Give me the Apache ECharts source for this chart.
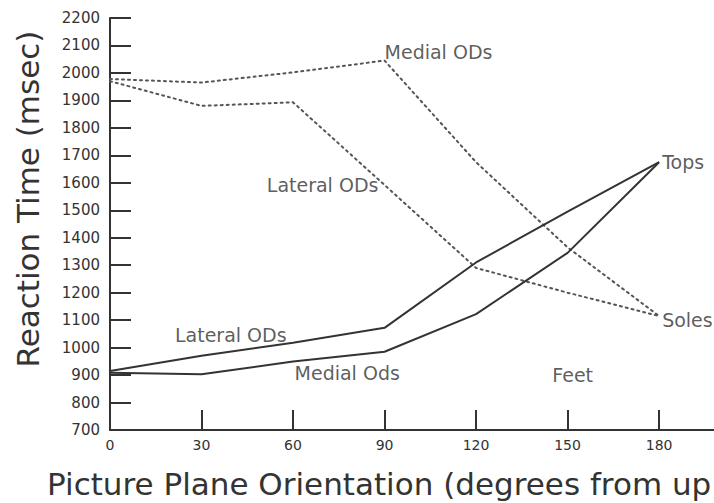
<!DOCTYPE html>
<html><head><meta charset="utf-8">
<script src="https://cdn.jsdelivr.net/npm/echarts@6/dist/echarts.min.js"></script>
<style>html,body{margin:0;padding:0;background:#fff}#c{width:714px;height:503px}</style>
</head><body><div id="c"></div>
<script>
// Data
const orientations = [0, 30, 60, 90, 120, 150, 180];
const xTickValues = [0, 30, 60, 90, 120, 150, 180];
const feetTopsLateral = [915, 970, 1018, 1072, 1310, 1495, 1675];
const feetTopsMedial = [908, 903, 949, 985, 1122, 1345, 1675];
const feetSolesMedial = [1978, 1965, 2002, 2045, 1675, 1365, 1115];
const feetSolesLateral = [1970, 1880, 1893, 1592, 1290, 1200, 1115];
const annotationX = [90, 51.4, 21.3, 60.5, 145, 181, 181];
const annotationY = [2076, 1592, 1046, 907, 900, 1676, 1100];
const annotationText = ['Medial ODs', 'Lateral ODs', 'Lateral ODs', 'Medial Ods', 'Feet', 'Tops', 'Soles'];
const yTitle = 'Reaction Time (msec)';
const xTitle = 'Picture Plane Orientation (degrees from up';

const FONT = '"DejaVu Sans", sans-serif';
const INK = '#333';
const pair = arr => orientations.map((x, i) => [x, arr[i]]);
const solid = { color: INK, width: 2, type: 'solid' };
const dotted = { color: '#555', width: 2, type: [2, 4], cap: 'round' };

const chart = echarts.init(document.getElementById('c'), null, { renderer: 'svg' });
chart.setOption({
  animation: false,
  backgroundColor: '#fff',
  grid: { left: 110, top: 18, bottom: 73, right: 0, containLabel: false },
  xAxis: {
    type: 'value', min: 0, max: 198, interval: 30,
    splitLine: { show: false },
    axisLine: { show: true, lineStyle: { color: INK, width: 2 } },
    axisTick: { show: true, inside: true, length: 20, lineStyle: { color: INK, width: 2 }, customValues: xTickValues },
    axisLabel: { color: INK, fontFamily: FONT, fontSize: 14, margin: 8, customValues: xTickValues,
                 formatter: v => String(v) }
  },
  yAxis: {
    type: 'value', min: 700, max: 2200, interval: 100,
    splitLine: { show: false },
    axisLine: { show: true, lineStyle: { color: INK, width: 2 } },
    axisTick: { show: true, inside: true, length: 21, lineStyle: { color: INK, width: 2 } },
    axisLabel: { color: INK, fontFamily: FONT, fontSize: 15, margin: 10, formatter: v => String(v) }
  },
  series: [
    { type: 'line', data: pair(feetTopsLateral), symbol: 'none', lineStyle: solid, z: 3 },
    { type: 'line', data: pair(feetTopsMedial), symbol: 'none', lineStyle: solid, z: 3 },
    { type: 'line', data: pair(feetSolesMedial), symbol: 'none', lineStyle: dotted, z: 2 },
    { type: 'line', data: pair(feetSolesLateral), symbol: 'none', lineStyle: dotted, z: 2 },
    {
      type: 'scatter', symbolSize: 0, z: 5,
      data: annotationX.map((x, i) => [x, annotationY[i], annotationText[i]]),
      label: {
        show: true, position: 'inside', align: 'left', verticalAlign: 'middle',
        color: INK, fontFamily: FONT, fontSize: 19,
        formatter: p => p.value[2]
      }
    }
  ],
  graphic: [
    { type: 'text', x: 28, y: 199, rotation: Math.PI / 2,
      style: { text: yTitle, font: '31px ' + FONT, fill: INK, textAlign: 'center', textVerticalAlign: 'middle' } },
    { type: 'text', x: 47, y: 484,
      style: { text: xTitle, font: '31px ' + FONT, fill: INK, textAlign: 'left', textVerticalAlign: 'middle' } }
  ]
});
</script>
</body></html>
